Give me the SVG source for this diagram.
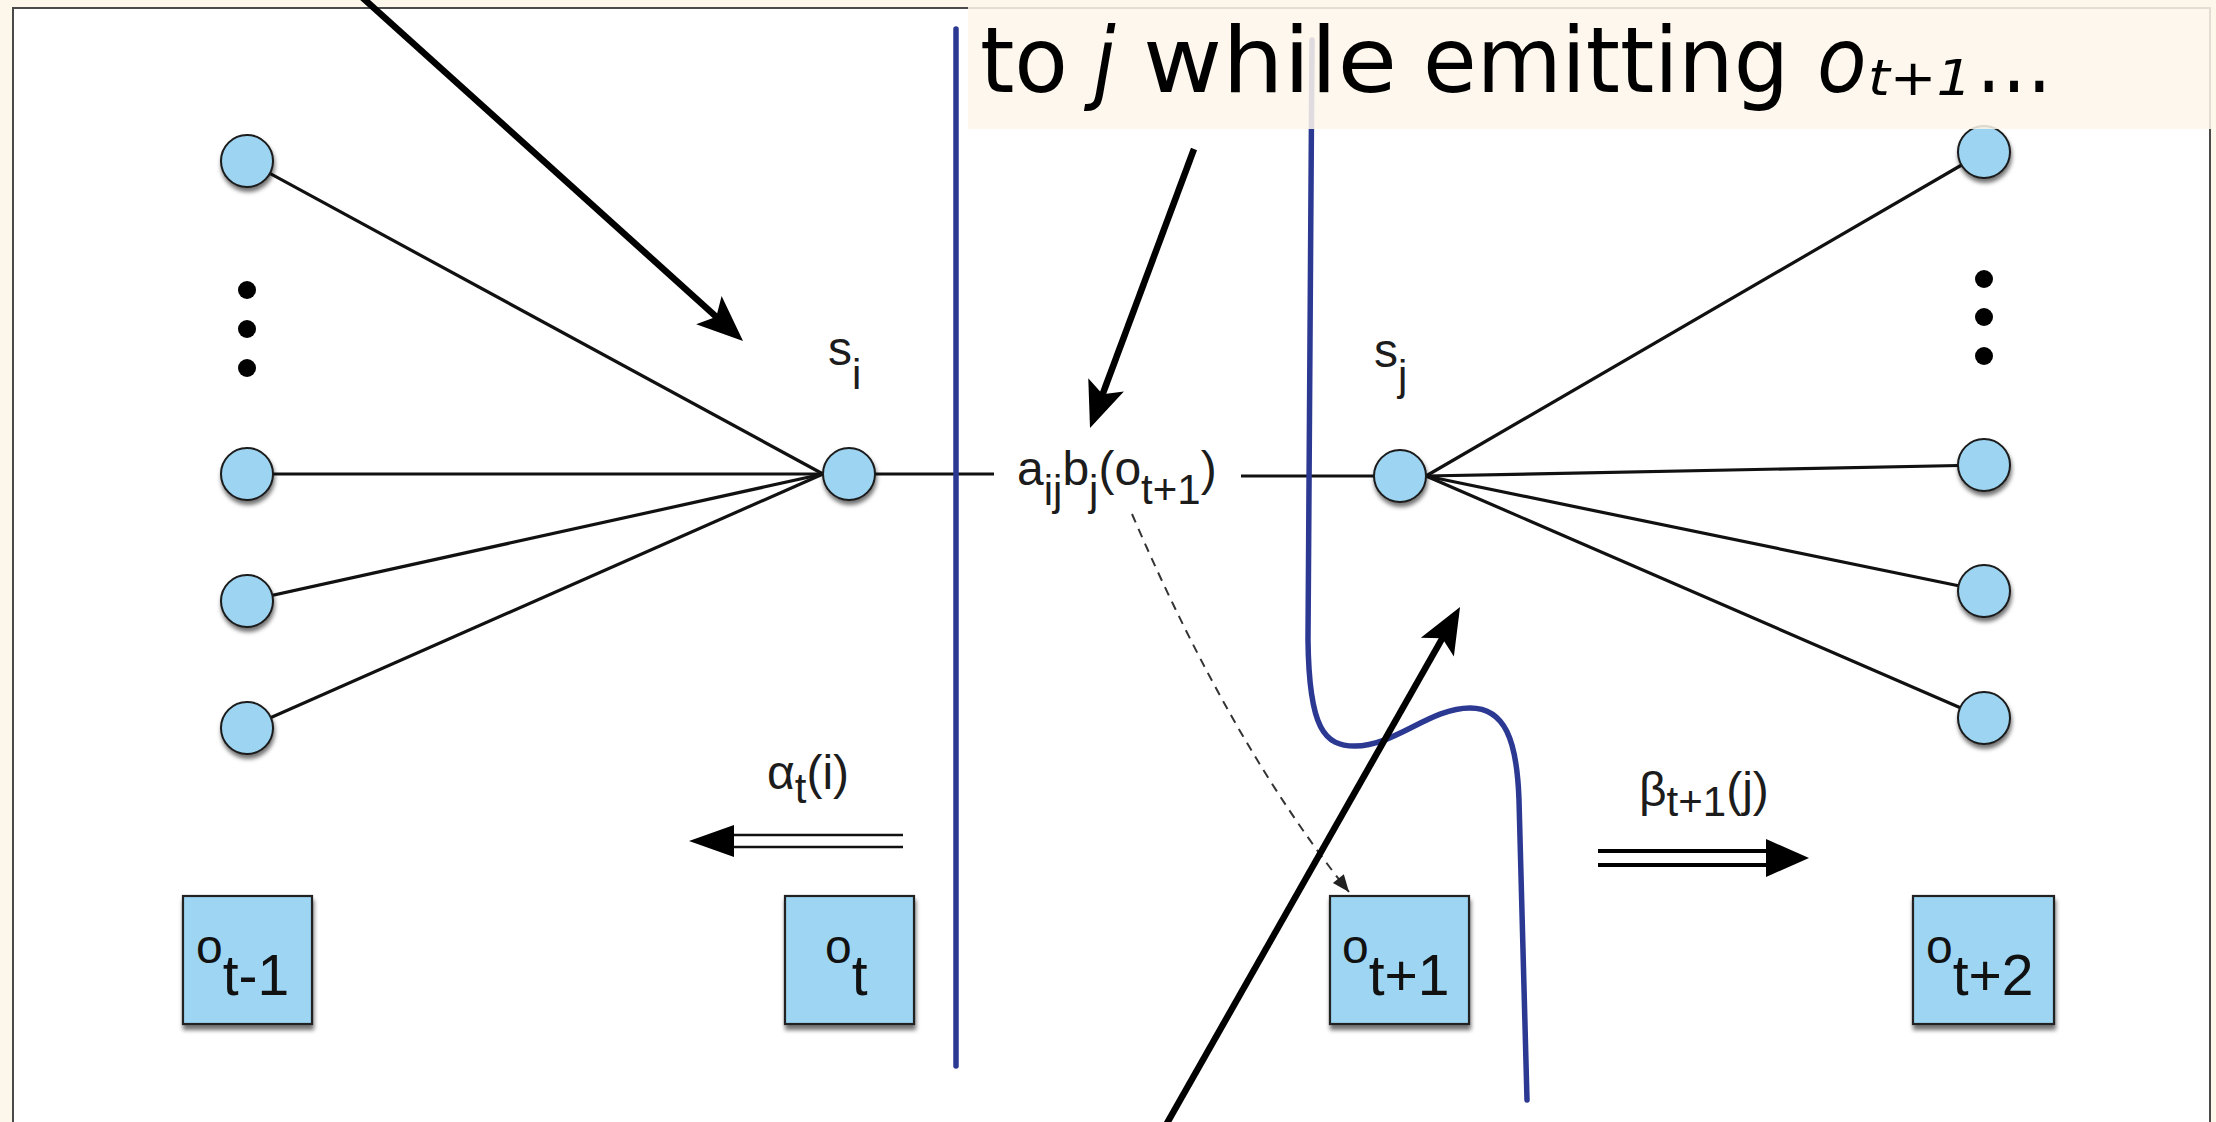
<svg xmlns="http://www.w3.org/2000/svg" width="2216" height="1122" viewBox="0 0 2216 1122">
  <style>
    .node{fill:#9dd4f1;stroke:#1a1a1a;stroke-width:2;filter:url(#sh)}
    .obs{fill:#9dd5f2;stroke:#222;stroke-width:2.2;filter:url(#shb)}
    .fan{stroke:#111;stroke-width:3.2;fill:none}
    .lbl{font-family:"Liberation Sans",Arial,sans-serif;font-size:48px;fill:#1c1c1c}
    .sub{font-size:42px}
    .olbl{font-family:"Liberation Sans",Arial,sans-serif;font-size:48px;fill:#111}
    .osub{font-size:57px}
    .dot{fill:#000}
    .ann{stroke:#000;stroke-width:6.5;fill:none;marker-end:url(#big)}
    .blue{stroke:#2b3993;stroke-width:5.5;fill:none;stroke-linecap:round}
    .cap{font-family:"DejaVu Sans Condensed","DejaVu Sans",sans-serif;font-stretch:condensed;font-size:90px;fill:#000}
  </style>
  <defs>
    <filter id="sh" x="-40%" y="-40%" width="180%" height="190%">
      <feDropShadow dx="1" dy="4" stdDeviation="2" flood-color="#000" flood-opacity="0.55"/>
    </filter>
    <filter id="shb" x="-20%" y="-20%" width="140%" height="140%">
      <feDropShadow dx="1" dy="5" stdDeviation="2" flood-color="#000" flood-opacity="0.55"/>
    </filter>
    <marker id="big" markerUnits="userSpaceOnUse" viewBox="-50 -25 60 50" markerWidth="60" markerHeight="50" refX="-8" refY="0" orient="auto" overflow="visible">
      <path d="M0,0 L-46,-19 L-36,0 L-46,19 Z" fill="#000"/>
    </marker>
    <marker id="sm" markerUnits="userSpaceOnUse" viewBox="-20 -10 24 20" markerWidth="24" markerHeight="20" refX="0" refY="0" orient="auto" overflow="visible">
      <path d="M0,0 L-17,-7 L-17,7 Z" fill="#222"/>
    </marker>
  </defs>

  <!-- slide background and figure frame -->
  <rect x="0" y="0" width="2216" height="1122" fill="#fdf6ea"/>
  <rect x="13" y="8" width="2197" height="1140" fill="#fff" stroke="#4a4a4a" stroke-width="2"/>

  <!-- connectors -->
  <g id="connectors">
    <line class="fan" x1="247" y1="161" x2="823" y2="474"/>
    <line class="fan" x1="247" y1="474" x2="823" y2="474"/>
    <line class="fan" x1="247" y1="601" x2="823" y2="474"/>
    <line class="fan" x1="247" y1="728" x2="823" y2="474"/>
    <line class="fan" x1="849" y1="474" x2="994" y2="474"/>
    <line class="fan" x1="1241" y1="476" x2="1400" y2="476"/>
    <line class="fan" x1="1426" y1="476" x2="1984" y2="152"/>
    <line class="fan" x1="1426" y1="476" x2="1984" y2="465"/>
    <line class="fan" x1="1426" y1="476" x2="1984" y2="591"/>
    <line class="fan" x1="1426" y1="476" x2="1984" y2="718"/>
    <path d="M1132,514 Q1232,746 1349,892" stroke="#333" stroke-width="2" stroke-dasharray="9 7" fill="none" marker-end="url(#sm)"/>
  </g>

  <!-- dots -->
  <g id="dots-left">
    <circle class="dot" cx="247" cy="290" r="9"/>
    <circle class="dot" cx="247" cy="329" r="9"/>
    <circle class="dot" cx="247" cy="368" r="9"/>
  </g>
  <g id="dots-right">
    <circle class="dot" cx="1984" cy="279" r="9"/>
    <circle class="dot" cx="1984" cy="317" r="9"/>
    <circle class="dot" cx="1984" cy="356" r="9"/>
  </g>

  <!-- state nodes -->
  <g id="left1"><circle class="node" cx="247" cy="161" r="26"/></g>
  <g id="left2"><circle class="node" cx="247" cy="474" r="26"/></g>
  <g id="left3"><circle class="node" cx="247" cy="601" r="26"/></g>
  <g id="left4"><circle class="node" cx="247" cy="728" r="26"/></g>
  <g id="si">
    <circle class="node" cx="849" cy="474" r="26"/>
    <text class="lbl" x="828" y="365">s<tspan class="sub" dy="24">i</tspan></text>
  </g>
  <g id="sj">
    <circle class="node" cx="1400" cy="476" r="26"/>
    <text class="lbl" x="1374" y="367">s<tspan class="sub" dy="23">j</tspan></text>
  </g>
  <g id="right1"><circle class="node" cx="1984" cy="152" r="26"/></g>
  <g id="right2"><circle class="node" cx="1984" cy="465" r="26"/></g>
  <g id="right3"><circle class="node" cx="1984" cy="591" r="26"/></g>
  <g id="right4"><circle class="node" cx="1984" cy="718" r="26"/></g>

  <!-- transition label -->
  <g id="aij-label">
    <text class="lbl" x="1017" y="485">a<tspan class="sub" dy="20">ij</tspan><tspan dy="-20">b</tspan><tspan class="sub" dy="20">j</tspan><tspan dy="-20">(o</tspan><tspan class="sub" dy="19">t+1</tspan><tspan dy="-19">)</tspan></text>
  </g>

  <!-- observation boxes -->
  <g id="o-tm1">
    <rect class="obs" x="183" y="896" width="129" height="128"/>
    <text class="olbl" x="196" y="963">o<tspan class="osub" dy="32">t-1</tspan></text>
  </g>
  <g id="o-t">
    <rect class="obs" x="785" y="896" width="129" height="128"/>
    <text class="olbl" x="825" y="963">o<tspan class="osub" dy="32">t</tspan></text>
  </g>
  <g id="o-tp1">
    <rect class="obs" x="1330" y="896" width="139" height="128"/>
    <text class="olbl" x="1342" y="963">o<tspan class="osub" dy="32">t+1</tspan></text>
  </g>
  <g id="o-tp2">
    <rect class="obs" x="1913" y="896" width="141" height="128"/>
    <text class="olbl" x="1926" y="963">o<tspan class="osub" dy="32">t+2</tspan></text>
  </g>

  <!-- alpha arrow -->
  <g id="alpha">
    <line x1="903" y1="835" x2="730" y2="835" stroke="#111" stroke-width="2.5"/>
    <line x1="903" y1="847" x2="730" y2="847" stroke="#111" stroke-width="2.5"/>
    <polygon points="689,841 734,825 734,857" fill="#000"/>
    <text class="lbl" x="767" y="789">α<tspan class="sub" dy="14">t</tspan><tspan dy="-14">(i)</tspan></text>
  </g>

  <!-- beta arrow -->
  <g id="beta">
    <line x1="1598" y1="851" x2="1770" y2="851" stroke="#000" stroke-width="4"/>
    <line x1="1598" y1="865" x2="1770" y2="865" stroke="#000" stroke-width="4"/>
    <polygon points="1809,858 1766,839 1766,877" fill="#000"/>
    <text class="lbl" x="1639" y="806">β<tspan class="sub" dy="10">t+1</tspan><tspan dy="-10">(j)</tspan></text>
  </g>

  <!-- separators -->
  <g id="separators">
    <line class="blue" x1="956" y1="29" x2="956" y2="1066"/>
    <path class="blue" d="M1312,40 L1308,640 C1309,730 1325,746 1355,746 C1395,746 1430,708 1470,708 C1505,708 1517,740 1519,800 L1527,1100"/>
  </g>

  <!-- caption -->
  <g id="caption">
    <rect x="968" y="0" width="1248" height="129" fill="#fdf6ea" fill-opacity="0.86"/>
    <text class="cap" x="980" y="92" textLength="88" lengthAdjust="spacingAndGlyphs">to</text>
    <text class="cap" x="1093" y="92" font-style="italic">j</text>
    <text class="cap" x="1143" y="92" textLength="254" lengthAdjust="spacingAndGlyphs">while</text>
    <text class="cap" x="1423" y="92" textLength="366" lengthAdjust="spacingAndGlyphs">emitting</text>
    <text class="cap" x="1817" y="92" font-style="italic">o<tspan x="1868" y="95" font-size="50" textLength="104" lengthAdjust="spacingAndGlyphs">t+1</tspan><tspan x="1976" y="92" font-style="normal" textLength="76" lengthAdjust="spacingAndGlyphs">…</tspan></text>
  </g>

  <!-- annotation arrows -->
  <g id="annotations">
    <line class="ann" x1="354" y1="-10" x2="737.1" y2="335.6"/>
    <line class="ann" x1="1194" y1="149" x2="1092.8" y2="420.5"/>
    <line class="ann" x1="1162" y1="1132" x2="1456.1" y2="614"/>
  </g>
</svg>
